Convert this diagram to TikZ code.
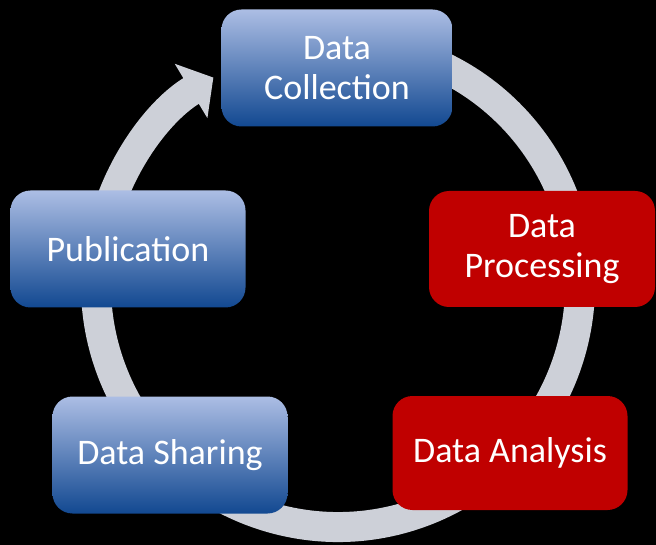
\documentclass[tikz,border=0pt]{standalone}
\usepackage{fontspec}
\setmainfont{Carlito}
\usetikzlibrary{arrows.meta}

\definecolor{ringgray}{RGB}{205,208,216}
\definecolor{boxred}{RGB}{192,0,0}
\definecolor{bluetop}{RGB}{172,190,228}
\definecolor{bluemid}{RGB}{138,162,212}
\definecolor{bluebot}{RGB}{18,72,145}

\begin{document}
\begin{tikzpicture}[x=1pt,y=-1pt,
                    ring/.style={draw=ringgray,line width=30pt,-{Triangle[length=26pt,width=62pt]}},
                    main node/.style={rounded corners=20pt,align=center,text=white,
                                      font=\fontsize{36}{40}\selectfont,inner sep=0pt},
                    blue node/.style={main node,top color=bluetop,middle color=bluemid,bottom color=bluebot},
                    red node/.style={main node,fill=boxred}]

  \fill[black] (0,0) rectangle (656,545);
  \useasboundingbox (0,0) rectangle (656,545);

  % the cycle
  \coordinate (c) at (338,285);
  \draw[ring] (c) ++(-75:242) arc[start angle=-75, end angle=239, radius=242];

  \node[blue node,minimum width=231pt,minimum height=117pt] (1) at (337,68) {Data\\Collection};
  \node[red node,minimum width=226pt,minimum height=116pt] (2) at (542,249) {Data\\Processing};
  \node[red node,minimum width=235pt,minimum height=114pt] (3) at (510,453) {Data Analysis};
  \node[blue node,minimum width=235pt,minimum height=117pt] (4) at (170,455) {Data Sharing};
  \node[blue node,minimum width=235pt,minimum height=117pt] (5) at (128,249) {Publication};
\end{tikzpicture}
\end{document}
